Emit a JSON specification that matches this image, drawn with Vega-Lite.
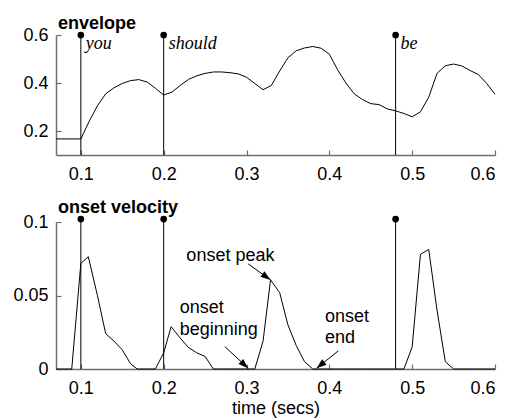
{
  "$schema": "https://vega.github.io/schema/vega-lite/v6.json",
  "autosize": {"type": "none"},
  "padding": {"left": 56, "top": 35, "right": 451, "bottom": 385},
  "datasets": {
    "envelope": [
      {"t": 0.07, "v": 0.167}, {"t": 0.10, "v": 0.167}, {"t": 0.11, "v": 0.24}, {"t": 0.12, "v": 0.305},
      {"t": 0.13, "v": 0.355}, {"t": 0.14, "v": 0.38}, {"t": 0.15, "v": 0.398}, {"t": 0.16, "v": 0.41},
      {"t": 0.17, "v": 0.414}, {"t": 0.18, "v": 0.404}, {"t": 0.19, "v": 0.378}, {"t": 0.20, "v": 0.35},
      {"t": 0.21, "v": 0.362}, {"t": 0.22, "v": 0.39}, {"t": 0.23, "v": 0.415}, {"t": 0.24, "v": 0.43},
      {"t": 0.25, "v": 0.44}, {"t": 0.26, "v": 0.446}, {"t": 0.27, "v": 0.446}, {"t": 0.28, "v": 0.443},
      {"t": 0.29, "v": 0.438}, {"t": 0.30, "v": 0.424}, {"t": 0.31, "v": 0.398}, {"t": 0.32, "v": 0.372},
      {"t": 0.33, "v": 0.39}, {"t": 0.34, "v": 0.45}, {"t": 0.35, "v": 0.505}, {"t": 0.36, "v": 0.534},
      {"t": 0.37, "v": 0.546}, {"t": 0.38, "v": 0.552}, {"t": 0.39, "v": 0.545}, {"t": 0.40, "v": 0.52},
      {"t": 0.41, "v": 0.455}, {"t": 0.42, "v": 0.4}, {"t": 0.43, "v": 0.355}, {"t": 0.44, "v": 0.331},
      {"t": 0.45, "v": 0.314}, {"t": 0.46, "v": 0.31}, {"t": 0.47, "v": 0.292}, {"t": 0.48, "v": 0.284},
      {"t": 0.49, "v": 0.273}, {"t": 0.50, "v": 0.259}, {"t": 0.51, "v": 0.28}, {"t": 0.52, "v": 0.341},
      {"t": 0.53, "v": 0.44}, {"t": 0.54, "v": 0.472}, {"t": 0.55, "v": 0.479}, {"t": 0.56, "v": 0.471},
      {"t": 0.57, "v": 0.452}, {"t": 0.58, "v": 0.435}, {"t": 0.59, "v": 0.398}, {"t": 0.60, "v": 0.353}
    ],
    "velocity": [
      {"t": 0.07, "v": 0}, {"t": 0.08, "v": 0}, {"t": 0.089, "v": 0}, {"t": 0.10, "v": 0.0718},
      {"t": 0.109, "v": 0.0764}, {"t": 0.12, "v": 0.05}, {"t": 0.13, "v": 0.024}, {"t": 0.14, "v": 0.019},
      {"t": 0.15, "v": 0.013}, {"t": 0.16, "v": 0.0036}, {"t": 0.168, "v": 0}, {"t": 0.18, "v": 0},
      {"t": 0.19, "v": 0}, {"t": 0.20, "v": 0.011}, {"t": 0.209, "v": 0.0288}, {"t": 0.22, "v": 0.021},
      {"t": 0.23, "v": 0.0146}, {"t": 0.24, "v": 0.011}, {"t": 0.25, "v": 0.0085}, {"t": 0.26, "v": 0},
      {"t": 0.27, "v": 0}, {"t": 0.28, "v": 0}, {"t": 0.29, "v": 0}, {"t": 0.30, "v": 0},
      {"t": 0.31, "v": 0}, {"t": 0.32, "v": 0.019}, {"t": 0.329, "v": 0.0606}, {"t": 0.34, "v": 0.052},
      {"t": 0.35, "v": 0.03}, {"t": 0.36, "v": 0.016}, {"t": 0.37, "v": 0.005}, {"t": 0.38, "v": 0},
      {"t": 0.39, "v": 0}, {"t": 0.40, "v": 0}, {"t": 0.41, "v": 0}, {"t": 0.42, "v": 0},
      {"t": 0.43, "v": 0}, {"t": 0.44, "v": 0}, {"t": 0.45, "v": 0}, {"t": 0.46, "v": 0},
      {"t": 0.47, "v": 0}, {"t": 0.48, "v": 0}, {"t": 0.49, "v": 0}, {"t": 0.50, "v": 0.015},
      {"t": 0.51, "v": 0.078}, {"t": 0.52, "v": 0.0813}, {"t": 0.53, "v": 0.04}, {"t": 0.54, "v": 0.005},
      {"t": 0.55, "v": 0}, {"t": 0.56, "v": 0}, {"t": 0.57, "v": 0}, {"t": 0.58, "v": 0},
      {"t": 0.59, "v": 0}, {"t": 0.60, "v": 0}
    ],
    "words": [
      {"word": "you", "t": 0.1},
      {"word": "should", "t": 0.2},
      {"word": "be", "t": 0.48}
    ],
    "arrows": [
      {"name": "peak", "t": 0.302, "v": 0.0715, "t2": 0.329, "v2": 0.0606},
      {"name": "beginning", "t": 0.2737, "v": 0.0153, "t2": 0.302, "v2": 0.0005},
      {"name": "end", "t": 0.4108, "v": 0.0123, "t2": 0.3846, "v2": 0.0005}
    ],
    "notes": [
      {"text": "onset peak", "t": 0.2274, "v": 0.0737},
      {"text": "onset", "t": 0.2193, "v": 0.0379},
      {"text": "beginning", "t": 0.2193, "v": 0.0233},
      {"text": "onset", "t": 0.3947, "v": 0.0323},
      {"text": "end", "t": 0.3947, "v": 0.0179}
    ]
  },
  "vconcat": [
    {
      "width": 439,
      "height": 120,
      "title": {"text": "envelope", "anchor": "start", "frame": "group", "fontSize": 18, "fontWeight": "bold", "font": "Liberation Sans", "baseline": "alphabetic", "offset": -21, "dx": 2, "color": "black"},
      "layer": [
        {
          "data": {"name": "envelope"},
          "mark": {"type": "line", "color": "black", "strokeWidth": 1},
          "encoding": {
            "x": {"field": "t", "type": "quantitative", "scale": {"domain": [0.07, 0.6], "nice": false, "zero": false}, "axis": {"values": [0.1, 0.2, 0.3, 0.4, 0.5, 0.6], "title": null, "format": "~g"}},
            "y": {"field": "v", "type": "quantitative", "scale": {"domain": [0.1, 0.6], "nice": false, "zero": false}, "axis": {"values": [0.2, 0.4, 0.6], "title": null, "format": "~g"}}
          }
        },
        {
          "data": {"name": "words"},
          "mark": {"type": "rule", "color": "black", "strokeWidth": 1},
          "encoding": {"x": {"field": "t", "type": "quantitative"}, "y": {"datum": 0.1}, "y2": {"datum": 0.6}}
        },
        {
          "data": {"name": "words"},
          "mark": {"type": "point", "filled": true, "color": "black", "size": 45, "opacity": 1},
          "encoding": {"x": {"field": "t", "type": "quantitative"}, "y": {"datum": 0.6}}
        },
        {
          "data": {"name": "words"},
          "mark": {"type": "text", "font": "Liberation Serif", "fontStyle": "italic", "fontSize": 18, "align": "left", "baseline": "alphabetic", "dx": 5, "dy": 14, "color": "black"},
          "encoding": {"x": {"field": "t", "type": "quantitative"}, "y": {"datum": 0.6}, "text": {"field": "word"}}
        }
      ]
    },
    {
      "width": 439,
      "height": 147,
      "title": {"text": "onset velocity", "anchor": "start", "frame": "group", "fontSize": 18, "fontWeight": "bold", "font": "Liberation Sans", "baseline": "alphabetic", "offset": -18, "dx": 2, "color": "black"},
      "layer": [
        {
          "data": {"name": "velocity"},
          "mark": {"type": "line", "color": "black", "strokeWidth": 1},
          "encoding": {
            "x": {"field": "t", "type": "quantitative", "scale": {"domain": [0.07, 0.6], "nice": false, "zero": false}, "axis": {"values": [0.1, 0.2, 0.3, 0.4, 0.5, 0.6], "title": "time (secs)", "format": "~g"}},
            "y": {"field": "v", "type": "quantitative", "scale": {"domain": [0, 0.1], "nice": false, "zero": false}, "axis": {"values": [0, 0.05, 0.1], "title": null, "format": "~g"}}
          }
        },
        {
          "data": {"name": "words"},
          "mark": {"type": "rule", "color": "black", "strokeWidth": 1},
          "encoding": {"x": {"field": "t", "type": "quantitative"}, "y": {"datum": 0}, "y2": {"datum": 0.102}}
        },
        {
          "data": {"name": "words"},
          "mark": {"type": "point", "filled": true, "color": "black", "size": 45, "opacity": 1},
          "encoding": {"x": {"field": "t", "type": "quantitative"}, "y": {"datum": 0.102}}
        },
        {
          "data": {"name": "arrows"},
          "mark": {"type": "rule", "color": "black", "strokeWidth": 1},
          "encoding": {"x": {"field": "t", "type": "quantitative"}, "y": {"field": "v", "type": "quantitative"}, "x2": {"field": "t2"}, "y2": {"field": "v2"}}
        },
        {
          "data": {"name": "arrows"},
          "transform": [{"filter": "datum.name === 'peak'"}],
          "mark": {"type": "point", "shape": "M0,0L-0.7,2L0.7,2Z", "filled": true, "color": "black", "opacity": 1, "size": 100, "angle": 126},
          "encoding": {"x": {"field": "t2", "type": "quantitative"}, "y": {"field": "v2", "type": "quantitative"}}
        },
        {
          "data": {"name": "arrows"},
          "transform": [{"filter": "datum.name === 'beginning'"}],
          "mark": {"type": "point", "shape": "M0,0L-0.7,2L0.7,2Z", "filled": true, "color": "black", "opacity": 1, "size": 100, "angle": 133},
          "encoding": {"x": {"field": "t2", "type": "quantitative"}, "y": {"field": "v2", "type": "quantitative"}}
        },
        {
          "data": {"name": "arrows"},
          "transform": [{"filter": "datum.name === 'end'"}],
          "mark": {"type": "point", "shape": "M0,0L-0.7,2L0.7,2Z", "filled": true, "color": "black", "opacity": 1, "size": 100, "angle": 231},
          "encoding": {"x": {"field": "t2", "type": "quantitative"}, "y": {"field": "v2", "type": "quantitative"}}
        },
        {
          "data": {"name": "notes"},
          "mark": {"type": "text", "font": "Liberation Sans", "fontSize": 18, "align": "left", "baseline": "alphabetic", "color": "black"},
          "encoding": {"x": {"field": "t", "type": "quantitative"}, "y": {"field": "v", "type": "quantitative"}, "text": {"field": "text"}}
        }
      ]
    }
  ],
  "spacing": 67,
  "bounds": "flush",
  "config": {
    "view": {"stroke": null},
    "font": "Liberation Sans",
    "axis": {
      "grid": false,
      "domainColor": "#6e6e6e",
      "domainWidth": 1.5,
      "tickColor": "#6e6e6e",
      "tickWidth": 1.2,
      "tickSize": -5,
      "labelFontSize": 18,
      "labelFont": "Liberation Sans",
      "labelColor": "black",
      "titleFontSize": 18,
      "titleFont": "Liberation Sans",
      "titleFontWeight": "normal",
      "titleColor": "black"
    },
    "axisX": {"labelPadding": 15, "titlePadding": 2},
    "axisY": {"labelPadding": 13}
  }
}
